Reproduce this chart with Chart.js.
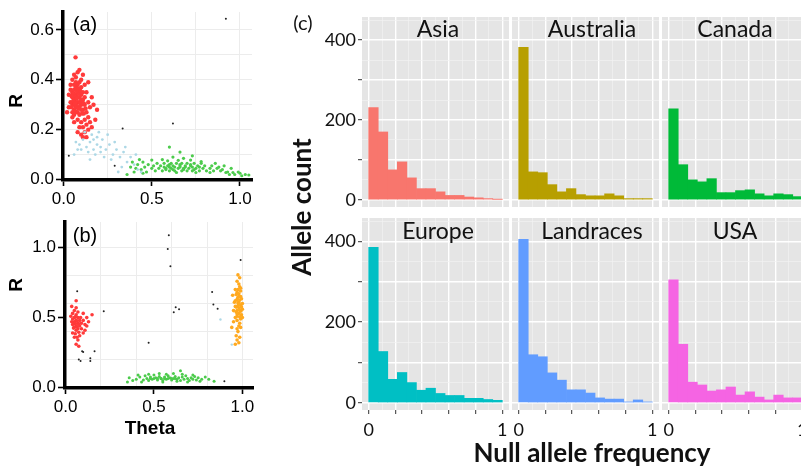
<!DOCTYPE html>
<html>
<head>
<meta charset="utf-8">
<script src="https://cdn.jsdelivr.net/npm/chart.js@4.4.1/dist/chart.umd.min.js"></script>
<style>
  html, body { margin: 0; padding: 0; background: #fff; overflow: hidden; }
  body { width: 801px; height: 469px; position: relative; }
  canvas { position: absolute; }
  .lab { position: absolute; transform: translate(-50%, -50%); white-space: nowrap; line-height: 1; color: #000; }
  .sc { font-family: 'Liberation Sans', Arial, sans-serif; }
  .fc { font-family: Lato, 'Open Sans', sans-serif; color: #111; }
  .rot { transform: translate(-50%, -50%) rotate(-90deg); }
</style>
</head>
<body>
<canvas id="plotA"></canvas>
<canvas id="plotB"></canvas>
<canvas id="facet0"></canvas>
<canvas id="facet1"></canvas>
<canvas id="facet2"></canvas>
<canvas id="facet3"></canvas>
<canvas id="facet4"></canvas>
<canvas id="facet5"></canvas>

<div class="lab sc" style="left:85px;top:24px;font-size:20px">(a)</div>
<div class="lab sc" style="left:85px;top:235px;font-size:20px">(b)</div>
<div class="lab sc rot" style="left:15px;top:101px;font-size:19px;font-weight:bold">R</div>
<div class="lab sc rot" style="left:15px;top:285px;font-size:19px;font-weight:bold">R</div>
<div class="lab sc" style="left:150px;top:427px;font-size:19px;font-weight:bold">Theta</div>
<div class="lab fc" style="left:303px;top:22px;font-size:20px">(c)</div>
<div class="lab fc rot" style="left:301px;top:207px;font-size:26px;font-weight:bold">Allele count</div>
<div class="lab fc" style="left:592px;top:452px;font-size:26px;font-weight:bold">Null allele frequency</div>
<div id="titles"></div>

<script>
// ---- panel (a): Theta / R clusters ----
const aBlue = [
  [0.07,0.15],[0.09,0.14],[0.11,0.16],[0.13,0.13],[0.15,0.15],[0.17,0.12],[0.19,0.14],[0.21,0.11],
  [0.22,0.16],[0.24,0.12],[0.26,0.14],[0.28,0.10],[0.30,0.12],[0.12,0.19],[0.16,0.18],[0.20,0.19],
  [0.18,0.10],[0.14,0.11],[0.10,0.12],[0.23,0.09],[0.27,0.08],[0.32,0.09],[0.34,0.11],[0.36,0.07],
  [0.38,0.09],[0.40,0.06],[0.42,0.04],[0.44,0.03],[0.33,0.05],[0.29,0.15],[0.25,0.18],[0.08,0.12],
  [0.06,0.10],[0.19,0.17],[0.35,0.13],[0.41,0.10],[0.31,0.03],[0.15,0.08],[0.21,0.13],[0.17,0.16]
];
const aGreen = [
  [0.53,0.065],[0.57,0.065],[0.61,0.065],[0.64,0.065],[0.67,0.065],[0.70,0.065],[0.74,0.065],[0.78,0.065],
  [0.51,0.055],[0.55,0.055],[0.59,0.055],[0.62,0.055],[0.66,0.055],[0.69,0.055],[0.72,0.055],[0.76,0.055],[0.80,0.055],[0.84,0.055],
  [0.50,0.045],[0.54,0.045],[0.58,0.045],[0.61,0.045],[0.65,0.045],[0.68,0.045],[0.71,0.045],[0.75,0.045],[0.79,0.045],[0.83,0.045],[0.87,0.045],
  [0.52,0.035],[0.56,0.035],[0.60,0.035],[0.63,0.035],[0.67,0.035],[0.70,0.035],[0.73,0.035],[0.77,0.035],[0.81,0.035],[0.85,0.035],[0.89,0.035],
  [0.57,0.05],[0.63,0.05],[0.69,0.05],[0.73,0.05],[0.77,0.05],[0.60,0.05],[0.66,0.05],
  [0.62,0.04],[0.68,0.04],[0.74,0.04],[0.58,0.04],[0.60,0.06],[0.66,0.06],[0.72,0.06],
  [0.64,0.028],[0.75,0.028],[0.83,0.028],[0.92,0.028],[0.96,0.028],
  [0.56,0.08],[0.62,0.09],[0.68,0.085],[0.72,0.078],[0.59,0.075],[0.65,0.077],[0.78,0.072],[0.50,0.078],
  [0.45,0.07],[0.86,0.065],[0.66,0.11],[0.73,0.095],[0.60,0.13],
  [0.36,0.02],[0.38,0.05],[0.40,0.03],[0.42,0.06],[0.44,0.04],[0.46,0.05],[0.47,0.03],[0.48,0.06],
  [0.43,0.08],[0.39,0.07],[0.41,0.045],[0.45,0.025],
  [0.90,0.04],[0.93,0.03],[0.95,0.045],[0.97,0.02],[0.99,0.03],[1.01,0.015],[1.03,0.02],[1.05,0.018],
  [0.88,0.05],[0.91,0.055],[0.94,0.02],[1.00,0.025]
];
const aRed = [
  [0.05,0.30],[0.06,0.32],[0.07,0.34],[0.08,0.31],[0.09,0.33],[0.10,0.30],[0.06,0.28],[0.07,0.29],
  [0.08,0.27],[0.09,0.29],[0.11,0.32],[0.05,0.35],[0.06,0.36],[0.07,0.37],[0.08,0.35],[0.09,0.36],
  [0.10,0.34],[0.11,0.28],[0.05,0.33],[0.06,0.30],[0.07,0.31],[0.08,0.33],[0.09,0.31],[0.10,0.37],
  [0.04,0.31],[0.12,0.30],[0.06,0.34],[0.07,0.27],[0.08,0.29],[0.09,0.26],[0.10,0.28],[0.05,0.27],
  [0.06,0.26],[0.11,0.35],[0.12,0.33],[0.07,0.39],[0.08,0.38],[0.09,0.39],[0.06,0.38],[0.10,0.32],
  [0.045,0.29],[0.055,0.315],[0.065,0.335],[0.075,0.325],[0.085,0.345],[0.095,0.305],[0.105,0.315],
  [0.075,0.295],[0.085,0.285],[0.065,0.305],[0.055,0.345],[0.095,0.355],[0.075,0.355],[0.115,0.305],
  [0.065,0.275],[0.085,0.365],[0.105,0.265],[0.045,0.335],[0.125,0.285],[0.115,0.265],
  [0.03,0.29],[0.03,0.34],[0.02,0.27],[0.04,0.38],[0.05,0.40],[0.07,0.41],[0.08,0.43],[0.10,0.40],
  [0.11,0.42],[0.09,0.44],[0.068,0.49],[0.12,0.38],[0.13,0.35],[0.14,0.31],[0.13,0.27],[0.15,0.29],
  [0.16,0.33],[0.17,0.30],[0.14,0.25],[0.12,0.24],[0.10,0.23],[0.08,0.24],[0.06,0.23],[0.11,0.21],
  [0.09,0.21],[0.13,0.22],[0.15,0.23],[0.12,0.19],[0.10,0.18],[0.14,0.20],[0.11,0.17],[0.13,0.17],
  [0.08,0.19],[0.16,0.21],[0.05,0.25],[0.19,0.28],[0.18,0.24],[0.04,0.36],[0.14,0.39],[0.06,0.42]
];
const aBlack = [[0.92,0.645],[0.62,0.225],[0.335,0.205],[0.03,0.095],[0.29,0.055]];

// ---- panel (b) ----
const bRed = [
  [0.04,0.45],[0.05,0.47],[0.06,0.44],[0.07,0.46],[0.08,0.48],[0.05,0.50],[0.06,0.52],[0.07,0.50],
  [0.04,0.49],[0.08,0.44],[0.06,0.41],[0.05,0.43],[0.07,0.42],[0.09,0.46],[0.04,0.53],[0.06,0.48],
  [0.055,0.455],[0.065,0.475],[0.045,0.465],[0.075,0.455],[0.065,0.435],[0.055,0.505],[0.035,0.47],
  [0.085,0.50],[0.03,0.51],[0.05,0.55],[0.07,0.54],[0.06,0.57],[0.045,0.425],[0.075,0.395],
  [0.055,0.385],[0.09,0.42],[0.10,0.48],[0.11,0.45],[0.12,0.44],[0.13,0.47],[0.15,0.52],[0.12,0.50],
  [0.10,0.53],[0.035,0.58],[0.06,0.62],[0.08,0.37],[0.07,0.34],[0.06,0.31],[0.075,0.295],[0.065,0.36],
  [0.05,0.36],[0.10,0.39],[0.11,0.41],[0.04,0.39]
];
const bOrange = [
  [0.97,0.55],[0.98,0.57],[0.99,0.59],[0.98,0.61],[0.97,0.63],[0.99,0.65],[0.98,0.53],[0.97,0.51],
  [0.99,0.49],[0.98,0.67],[0.96,0.58],[0.96,0.62],[1.00,0.56],[1.00,0.60],[0.975,0.70],[0.985,0.72],
  [0.97,0.48],[0.985,0.46],[0.965,0.54],[0.995,0.52],[0.975,0.585],[0.985,0.555],[0.975,0.645],
  [0.985,0.625],[0.965,0.665],[0.99,0.69],[0.98,0.74],[0.97,0.76],[0.985,0.785],[0.975,0.805],
  [0.96,0.70],[0.995,0.635],[0.955,0.61],[0.96,0.50],[1.00,0.50],[0.98,0.44],[0.97,0.42],[0.99,0.43],
  [0.975,0.40],[0.965,0.37],[0.985,0.36],[0.97,0.34],[0.96,0.31],[0.98,0.32],[0.95,0.47],[0.94,0.43],
  [0.95,0.55],[0.945,0.66],[0.975,0.605],[0.985,0.505],[0.965,0.575],[0.995,0.575],[0.97,0.525],
  [0.99,0.545],[0.98,0.595],[0.98,0.65],[0.97,0.68],[0.99,0.71]
];
const bGreen = [
  [0.36,0.07],[0.38,0.05],[0.40,0.06],[0.42,0.075],[0.44,0.055],[0.45,0.085],[0.46,0.065],[0.47,0.05],
  [0.48,0.075],[0.49,0.06],[0.50,0.09],[0.51,0.07],[0.52,0.055],[0.53,0.08],[0.54,0.065],[0.55,0.05],
  [0.56,0.075],[0.57,0.06],[0.58,0.085],[0.59,0.07],[0.60,0.055],[0.61,0.065],[0.62,0.08],[0.63,0.06],
  [0.64,0.07],[0.65,0.05],[0.66,0.075],[0.67,0.06],[0.68,0.085],[0.69,0.065],[0.70,0.05],[0.71,0.07],
  [0.72,0.06],[0.73,0.08],[0.74,0.055],[0.75,0.07],[0.77,0.06],[0.79,0.075],[0.48,0.065],[0.50,0.065],
  [0.52,0.065],[0.54,0.065],[0.56,0.065],[0.58,0.065],[0.60,0.065],[0.62,0.065],[0.47,0.095],[0.53,0.10],
  [0.57,0.095],[0.65,0.12],[0.61,0.10],[0.43,0.04],[0.55,0.04],[0.63,0.045],[0.69,0.04],[0.76,0.045],
  [0.81,0.06],[0.84,0.045],[0.41,0.09],[0.66,0.095],[0.72,0.09],[0.35,0.04]
];
const bBlue = [[0.876,0.486],[0.94,0.307]];
const bBlack = [
  [0.066,0.688],[0.216,0.545],[0.47,0.32],[0.094,0.26],[0.10,0.255],[0.075,0.20],[0.085,0.19],
  [0.14,0.19],[0.14,0.21],[0.164,0.26],[0.584,1.088],[0.578,0.99],[0.593,0.866],[0.829,0.683],
  [0.836,0.593],[0.86,0.564],[0.623,0.574],[0.642,0.56],[0.612,0.538],[0.99,0.912],[0.898,0.045]
];

const thetaLabels = [0, 0.5, 1];
const rLabelsA = [0, 0.2, 0.4, 0.6];
const rLabelsB = [0, 0.5, 1];

// ---- panel (c): null allele frequency histograms, 14 bins over 0..1 ----
const regions = ['Asia', 'Australia', 'Canada', 'Europe', 'Landraces', 'USA'];
const regionColors = ['#F8766D', '#B79F00', '#00BA38', '#00BFC4', '#619CFF', '#F564E3'];
const asiaCounts = [231, 170, 75, 95, 55, 28, 28, 20, 11, 11, 7, 5, 3, 1];
const australiaCounts = [382, 70, 68, 38, 20, 28, 13, 10, 10, 15, 10, 3, 3, 3];
const canadaCounts = [228, 88, 50, 45, 53, 18, 18, 23, 25, 15, 10, 15, 13, 8];
const europeCounts = [385, 127, 58, 75, 50, 31, 36, 23, 18, 18, 11, 11, 8, 6];
const landracesCounts = [405, 119, 114, 74, 56, 32, 32, 24, 12, 9, 9, 2, 7, 2];
const usaCounts = [305, 145, 51, 44, 29, 32, 39, 19, 27, 14, 7, 19, 12, 12];
const freqTicks = [0, 0.1, 0.2, 0.3, 0.4, 0.5, 0.6, 0.7, 0.8, 0.9, 1];
const countTicks = [0, 50, 100, 150, 200, 250, 300, 350, 400, 450];
const countLabels = [0, 200, 400];
const freqLabels = [0, 1];

Chart.defaults.animation = false;
Chart.defaults.events = [];
Chart.defaults.plugins.legend.display = false;
Chart.defaults.plugins.tooltip.enabled = false;

const near = (v, list) => list.some(l => Math.abs(l - v) < 1e-6);
const onStep = (v, s) => Math.abs(v / s - Math.round(v / s)) < 1e-6;
// tick value from a scriptable context (scale-level contexts carry no tick)
const tv = (c) => (c && c.tick ? c.tick.value : NaN);

function place(id, left, top, w, h) {
  const c = document.getElementById(id);
  c.width = w; c.height = h;
  c.style.left = left + 'px'; c.style.top = top + 'px';
  c.style.width = w + 'px'; c.style.height = h + 'px';
  return c;
}

function pts(list, color, r) {
  return {
    data: list.map(([x, y]) => ({ x, y })),
    backgroundColor: color,
    borderWidth: 0,
    pointRadius: r,
    pointHoverRadius: r,
  };
}

const scFont = { family: "'Liberation Sans', Arial, sans-serif", size: 17 };

function scatterPlot(canvas, datasets, o) {
  return new Chart(canvas, {
    type: 'scatter',
    data: { datasets },
    options: {
      responsive: false,
      layout: { padding: { top: 20, right: 8, left: 0, bottom: 0 } },
      scales: {
        x: {
          min: o.xMin, max: o.xMax,
          afterFit: (s) => { s.height = 30; },
          border: { display: true, color: '#000', width: 3.5 },
          grid: {
            color: (c) => onStep(tv(c), o.xGrid) ? '#ECECEC' : 'transparent',
            lineWidth: 1,
            tickLength: 6,
            tickWidth: 1.6,
            tickColor: (c) => near(tv(c), thetaLabels) ? '#000' : 'transparent',
          },
          ticks: {
            stepSize: o.xStep, includeBounds: false, autoSkip: false, maxRotation: 0,
            padding: 3, color: '#000', font: scFont,
            callback: (v) => near(v, thetaLabels) ? v.toFixed(1) : '',
          },
        },
        y: {
          min: o.yMin, max: o.yMax,
          afterFit: (s) => { s.width = o.yWidth; },
          border: { display: true, color: '#000', width: 3.5 },
          grid: {
            color: (c) => onStep(tv(c), o.yGrid) ? '#ECECEC' : 'transparent',
            lineWidth: 1,
            tickLength: 7,
            tickWidth: 1.6,
            tickColor: (c) => near(tv(c), o.yLabels) ? '#000' : 'transparent',
          },
          ticks: {
            stepSize: 0.1, includeBounds: false, autoSkip: false,
            padding: 2, color: '#000', font: scFont,
            callback: (v) => near(v, o.yLabels) ? v.toFixed(1) : '',
          },
        },
      },
    },
  });
}

scatterPlot(place('plotA', 0, -8, 260, 218), [
  pts(aBlue, '#ADD8E6', 1.4),
  pts(aGreen, '#4CCB4C', 1.6),
  pts(aRed, '#FF3A3A', 2.2),
  pts(aBlack, '#222', 1),
], { xMin: -0.003, xMax: 1.068, yMin: -0.002, yMax: 0.672, xStep: 0.25, xGrid: 0.25,
     yGrid: 0.1, yLabels: rLabelsA, yWidth: 63 });

scatterPlot(place('plotB', 0, 202, 261, 216), [
  pts(bBlue, '#ADD8E6', 1.2),
  pts(bGreen, '#4CCB4C', 1.5),
  pts(bRed, '#FF3A3A', 1.8),
  pts(bOrange, '#FFA91F', 1.8),
  pts(bBlack, '#222', 1),
], { xMin: -0.003, xMax: 1.06, yMin: -0.003, yMax: 1.183, xStep: 0.1, xGrid: 0.2,
     yGrid: 0.2, yLabels: rLabelsB, yWidth: 65 });

// ---- facets ----
const panelBg = {
  id: 'panelBg',
  beforeDraw(chart) {
    const { ctx, chartArea: a } = chart;
    ctx.save();
    ctx.fillStyle = '#E5E5E5';
    ctx.fillRect(a.left, a.top, a.width, a.height);
    ctx.restore();
  },
};

const fcFont = { family: "Lato, 'Open Sans', sans-serif", size: 18 };
const binWidth = 1 / asiaCounts.length;

function facet(canvas, counts, color, leftCol, bottomRow) {
  return new Chart(canvas, {
    type: 'bar',
    data: {
      datasets: [{
        data: counts.map((n, i) => ({ x: (i + 0.5) * binWidth, y: n })),
        backgroundColor: color,
        borderWidth: 0,
        barPercentage: 1,
        categoryPercentage: 1,
      }],
    },
    plugins: [panelBg],
    options: {
      responsive: false,
      layout: { padding: { top: 14, bottom: bottomRow ? 0 : 14, left: 4, right: 4 } },
      scales: {
        x: {
          type: 'linear', min: -0.05, max: 1.05, offset: false,
          afterBuildTicks: (s) => { s.ticks = freqTicks.map((value) => ({ value })); },
          afterFit: (s) => { s.height = bottomRow ? 30 : 0; },
          border: { display: false },
          grid: {
            offset: false,
            color: (c) => onStep(tv(c), 0.2) ? '#FFFFFF' : '#F2F2F2',
            lineWidth: (c) => onStep(tv(c), 0.2) ? 1.4 : 0.7,
            drawTicks: bottomRow,
            tickLength: 4,
            tickWidth: 1,
            tickColor: (c) => onStep(tv(c), 0.2) ? '#333' : 'transparent',
          },
          ticks: {
            display: bottomRow, autoSkip: false,
            maxRotation: 0, padding: 5, color: '#111', font: fcFont,
            callback: (v) => near(v, freqLabels) ? String(Math.round(v)) : '',
          },
        },
        y: {
          min: -18, max: 458,
          afterBuildTicks: (s) => { s.ticks = countTicks.map((value) => ({ value })); },
          afterFit: (s) => { s.width = leftCol ? 50 : 0; },
          border: { display: false },
          grid: {
            color: (c) => onStep(tv(c), 100) ? '#FFFFFF' : '#F2F2F2',
            lineWidth: (c) => onStep(tv(c), 100) ? 1.4 : 0.7,
            drawTicks: leftCol,
            tickLength: 4,
            tickWidth: 1,
            tickColor: (c) => onStep(tv(c), 100) ? '#333' : 'transparent',
          },
          ticks: {
            display: leftCol, autoSkip: false,
            padding: 2, color: '#111', font: fcFont,
            callback: (v) => near(v, countLabels) ? String(v) : '',
          },
        },
      },
    },
  });
}

const allCounts = [asiaCounts, australiaCounts, canadaCounts, europeCounts, landracesCounts, usaCounts];
const colLefts = [362, 512, 662];
const rowTops = [17, 218];
const rowHeights = [190, 192];
const titleX = [438, 592, 735];
const titleY = [28, 230];
const titles = document.getElementById('titles');

allCounts.forEach((counts, i) => {
  const col = i % 3, row = Math.floor(i / 3);
  const leftCol = col === 0, bottomRow = row === 1;
  const L = colLefts[col], T = rowTops[row], H = rowHeights[row];
  const left = L - 4 - (leftCol ? 50 : 0);
  const w = 147 + 8 + (leftCol ? 50 : 0);
  const h = H + 14 + (bottomRow ? 30 : 14);
  facet(place('facet' + i, left, T - 14, w, h), counts, regionColors[i], leftCol, bottomRow);

  const d = document.createElement('div');
  d.className = 'lab fc';
  d.style.cssText = `left:${titleX[col]}px;top:${titleY[row]}px;font-size:23px`;
  d.textContent = regions[i];
  titles.appendChild(d);
});
</script>
</body>
</html>
